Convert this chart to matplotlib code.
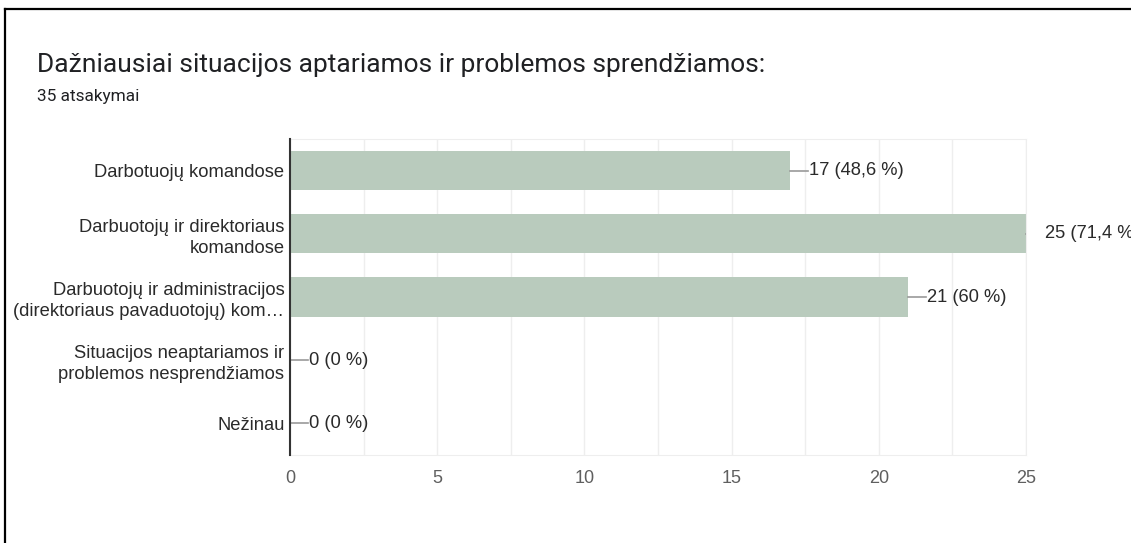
import matplotlib.pyplot as plt
from matplotlib.lines import Line2D
import numpy as np

# data
categories = [
    "Darbotuojų komandose",
    "Darbuotojų ir direktoriaus\nkomandose",
    "Darbuotojų ir administracijos\n(direktoriaus pavaduotojų) kom…",
    "Situacijos neaptariamos ir\nproblemos nesprendžiamos",
    "Nežinau",
]
counts = [17, 25, 21, 0, 0]
value_labels = ["17 (48,6 %)", "25 (71,4 %)", "21 (60 %)", "0 (0 %)", "0 (0 %)"]
title = "Dažniausiai situacijos aptariamos ir problemos sprendžiamos:"
subtitle = "35 atsakymai"
xticks = [0, 5, 10, 15, 20, 25]

W, H = 1131, 543
fig = plt.figure(figsize=(W / 100, H / 100), dpi=100)
ax = fig.add_axes([290 / W, 1 - 455 / H, (1026 - 290) / W, (455 - 139) / H])

y = np.arange(len(categories))
ax.barh(y, counts, height=0.62, color="#b9cbbd", zorder=2)
ax.set_ylim(len(categories) - 0.5, -0.5)
ax.set_xlim(0, 25)

# grid
ax.set_xticks(xticks)
ax.set_xticks(np.arange(0, 25.1, 2.5), minor=True)
ax.grid(axis="x", which="both", color="#eeeeee", lw=1, zorder=0)
ax.tick_params(axis="x", which="both", length=0, pad=11,
               labelsize=13, labelcolor="#5f5f5f")
for lab in ax.get_xticklabels():
    lab.set_family("Liberation Sans")

ax.set_yticks(y)
ax.set_yticklabels(categories, family="Liberation Sans", fontsize=13.2,
                   color="#2a2a2a", ha="right", linespacing=1.3)
ax.tick_params(axis="y", length=0, pad=4)

for s in ["top", "right", "bottom"]:
    ax.spines[s].set_color("#eeeeee")
ax.spines["left"].set_color("#333333")
ax.spines["left"].set_linewidth(1.5)
ax.spines["left"].set_zorder(3)

# value labels with leader lines
lead = 18 / ((1026 - 290) / 25)
for yi, c, lab in zip(y, counts, value_labels):
    ax.plot([c, c + lead], [yi, yi], color="#999999", lw=1.2, zorder=3,
            clip_on=(c >= 25))
    ax.text(c + lead + 0.02, yi, lab, va="center", ha="left", fontsize=13.2,
            family="Liberation Sans", color="#2a2a2a", clip_on=False)

# titles
fig.text(37 / W, 1 - 65 / H, title, fontsize=19, family="Roboto",
         color="#202124", va="center", ha="left")
fig.text(37 / W, 1 - 97 / H, subtitle, fontsize=12.4, family="Roboto",
         color="#202124", va="center", ha="left")

# frame lines (top and left)
fig.add_artist(Line2D([5 / W, 1], [1 - 9 / H, 1 - 9 / H],
                      transform=fig.transFigure, color="black", lw=1.6))
fig.add_artist(Line2D([5 / W, 5 / W], [0, 1 - 9 / H],
                      transform=fig.transFigure, color="black", lw=1.6))

fig.savefig("out.png", dpi=100)
